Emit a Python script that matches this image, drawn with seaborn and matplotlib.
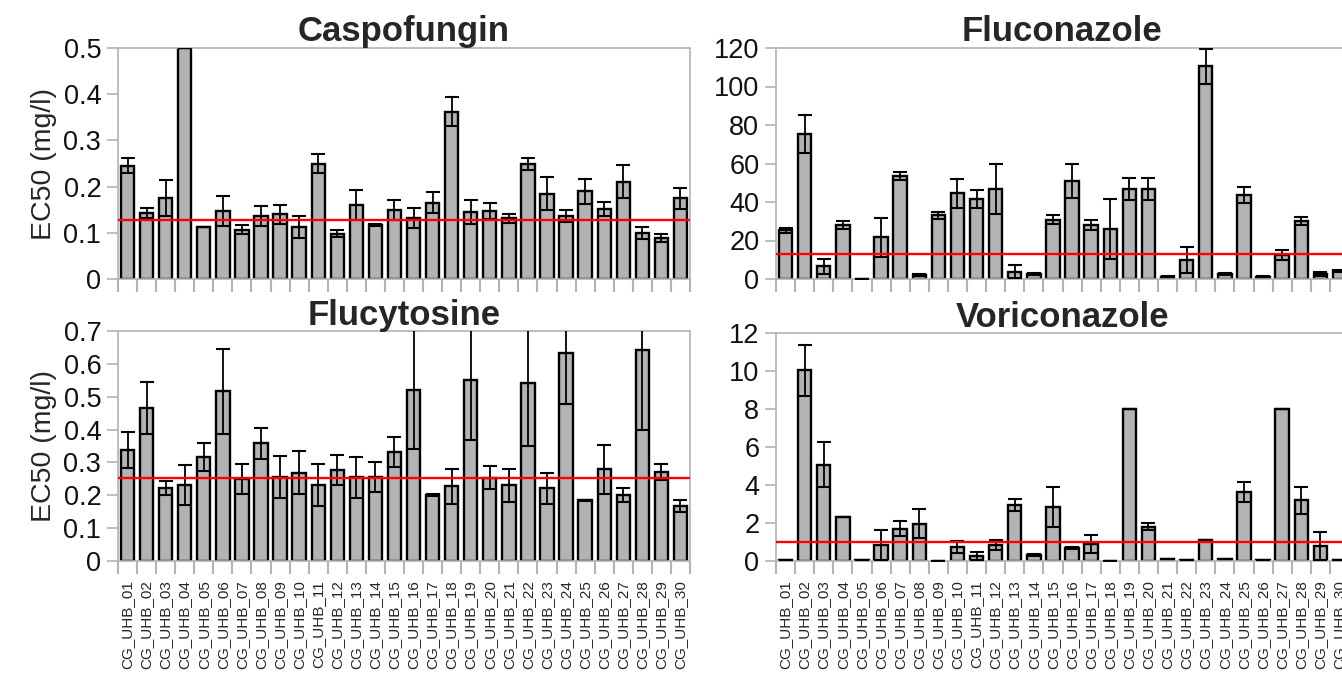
import numpy as np
import pandas as pd
import matplotlib
matplotlib.use("Agg")
import matplotlib.pyplot as plt
import seaborn as sns

strains = [f"CG_UHB_{i:02d}" for i in range(1, 31)]

caspo_mean = [0.245, 0.143, 0.175, 0.5, 0.113, 0.147, 0.107, 0.136, 0.140, 0.112,
              0.250, 0.098, 0.160, 0.117, 0.149, 0.132, 0.165, 0.362, 0.144, 0.147,
              0.131, 0.248, 0.185, 0.136, 0.190, 0.151, 0.211, 0.100, 0.089, 0.175]
caspo_err = [0.016, 0.010, 0.039, 0.0, 0.0, 0.032, 0.009, 0.022, 0.020, 0.024,
             0.021, 0.007, 0.033, 0.003, 0.021, 0.021, 0.023, 0.031, 0.026, 0.018,
             0.010, 0.013, 0.036, 0.013, 0.027, 0.015, 0.036, 0.013, 0.008, 0.023]
caspo_ref = 0.127

fluco_mean = [25.3, 75.4, 6.5, 28.1, 0.2, 21.6, 53.4, 1.9, 33.0, 44.5,
              41.7, 46.7, 3.8, 2.6, 30.9, 50.8, 27.9, 26.0, 46.9, 46.9,
              1.2, 9.8, 110.4, 2.6, 43.6, 1.2, 12.6, 30.2, 2.6, 4.0]
fluco_err = [1.4, 9.7, 4.0, 2.1, 0.0, 10.3, 2.1, 0.5, 2.0, 7.7,
             4.7, 13.0, 3.4, 0.5, 2.1, 8.9, 2.6, 15.5, 5.8, 5.8,
             0.3, 6.8, 9.3, 0.6, 4.0, 0.2, 2.6, 2.1, 0.8, 0.5]
fluco_ref = 12.9

flucy_mean = [0.339, 0.465, 0.223, 0.231, 0.316, 0.516, 0.250, 0.358, 0.255, 0.269,
              0.231, 0.277, 0.255, 0.255, 0.331, 0.521, 0.201, 0.227, 0.552, 0.254,
              0.230, 0.541, 0.221, 0.632, 0.185, 0.279, 0.201, 0.642, 0.271, 0.168]
flucy_err = [0.055, 0.079, 0.022, 0.060, 0.042, 0.130, 0.046, 0.047, 0.064, 0.066,
             0.064, 0.046, 0.062, 0.046, 0.045, 0.181, 0.004, 0.053, 0.183, 0.035,
             0.051, 0.192, 0.046, 0.153, 0.002, 0.074, 0.020, 0.243, 0.023, 0.019]
flucy_ref = 0.253

vori_mean = [0.04, 10.03, 5.07, 2.34, 0.07, 0.84, 1.71, 1.97, 0.01, 0.73,
             0.28, 0.86, 2.93, 0.33, 2.85, 0.70, 0.89, 0.02, 8.0, 1.80,
             0.10, 0.07, 1.08, 0.10, 3.62, 0.07, 8.0, 3.20, 0.79, 0.03]
vori_err = [0.0, 1.34, 1.18, 0.0, 0.0, 0.77, 0.37, 0.77, 0.0, 0.31,
            0.21, 0.26, 0.32, 0.05, 1.05, 0.05, 0.47, 0.0, 0.0, 0.19,
            0.0, 0.0, 0.0, 0.0, 0.52, 0.0, 0.0, 0.70, 0.76, 0.0]
vori_ref = 1.0

panels = [
    ("Caspofungin", caspo_mean, caspo_err, caspo_ref, (0, 0.5), [0, 0.1, 0.2, 0.3, 0.4, 0.5], ["0", "0.1", "0.2", "0.3", "0.4", "0.5"]),
    ("Fluconazole", fluco_mean, fluco_err, fluco_ref, (0, 120), [0, 20, 40, 60, 80, 100, 120], ["0", "20", "40", "60", "80", "100", "120"]),
    ("Flucytosine", flucy_mean, flucy_err, flucy_ref, (0, 0.7), [0, 0.1, 0.2, 0.3, 0.4, 0.5, 0.6, 0.7], ["0", "0.1", "0.2", "0.3", "0.4", "0.5", "0.6", "0.7"]),
    ("Voriconazole", vori_mean, vori_err, vori_ref, (0, 12), [0, 2, 4, 6, 8, 10, 12], ["0", "2", "4", "6", "8", "10", "12"]),
]

sns.set_style("white")
plt.rcParams["font.family"] = ["Liberation Sans", "DejaVu Sans"]

W, H = 1342, 674
fig = plt.figure(figsize=(W / 100, H / 100), dpi=100)

rects = [
    (118, 48, 690, 279),
    (776, 48, 1349, 279),
    (118, 331, 690, 561),
    (776, 333, 1349, 561),
]

GREY = "#b3b3b3"
for idx, ((title, mean, err, ref, ylim, yt, ytl), (x0, y0, x1, y1)) in enumerate(zip(panels, rects)):
    ax = fig.add_axes([x0 / W, 1 - y1 / H, (x1 - x0) / W, (y1 - y0) / H])
    df = pd.DataFrame({"strain": strains, "ec50": mean, "err": err})
    sns.barplot(data=df, x="strain", y="ec50", ax=ax, color=GREY, saturation=1,
                edgecolor="black", linewidth=1.7, width=0.7, errorbar=None, zorder=2)
    xs = [p.get_x() + p.get_width() / 2 for p in ax.patches]
    ax.errorbar(xs, df["ec50"], yerr=df["err"], fmt="none", ecolor="black",
                elinewidth=1.3, capsize=5, capthick=1.5, zorder=3)
    ax.axhline(ref, color="#ff0000", lw=1.7, zorder=4)
    ax.set_ylim(*ylim)
    ax.set_xlim(-0.5, len(strains) - 0.5)
    ax.set_yticks(yt)
    ax.set_yticklabels(ytl)
    ax.set_title(title, fontsize=25, fontweight="bold", pad=4)
    ax.set_xlabel("")
    if idx % 2 == 0:
        ax.set_ylabel("EC50 (mg/l)", fontsize=20.5, labelpad=5)
    else:
        ax.set_ylabel("")
    for s in ax.spines.values():
        s.set_color(GREY)
        s.set_linewidth(1.2)
        s.set_visible(True)
    ax.tick_params(axis="y", which="major", length=8, width=1.2, color=GREY,
                   labelsize=19.5, pad=4, left=True, labelcolor="#111111")
    ax.set_xticks(np.arange(-0.5, len(strains), 1.0), minor=True)
    ax.tick_params(axis="x", which="minor", length=9, width=1.5, color=GREY, bottom=True)
    if idx >= 2:
        ax.tick_params(axis="x", which="major", length=0, labelsize=11, pad=14,
                       labelrotation=90)
    else:
        ax.tick_params(axis="x", which="major", length=0, labelbottom=False)
    ax.grid(False)

fig.savefig("out.png", dpi=100)
